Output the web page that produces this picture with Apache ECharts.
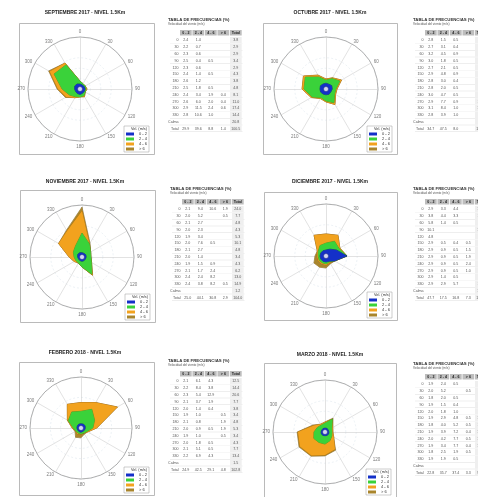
<!DOCTYPE html>
<html>
<head>
<meta charset="utf-8">
<script src="https://cdn.jsdelivr.net/npm/echarts@6/dist/echarts.min.js"></script>
<style>
  html, body { margin: 0; padding: 0; background: #fff; }
  #chart { width: 478px; height: 497px; }
</style>
</head>
<body>
<div id="chart"></div>
<script>
// Wind direction sectors (degrees, clockwise from north)
const DIRS = [0, 30, 60, 90, 120, 150, 180, 210, 240, 270, 300, 330];
// Wind speed classes (m/s)
const SPEED_CLASSES = ['0 - 2', '2 - 4', '4 - 6', '> 6'];
const MONTHS = ['SEPTIEMBRE 2017', 'OCTUBRE 2017', 'NOVIEMBRE 2017', 'DICIEMBRE 2017', 'FEBRERO 2018', 'MARZO 2018'];
const TITLE_SUFFIX = 'NIVEL 1.5Km';

// Frequency (%) per direction sector for each speed class
const sep17_v1 = [2.4, 2.2, 2.3, 2.5, 2.3, 2.4, 2.6, 2.5, 2.4, 2.6, 2.9, 2.8];
const sep17_v2 = [1.4, 0.7, 0.6, 0.4, 0.6, 1.4, 1.2, 1.8, 3.4, 6.0, 11.5, 10.6];
const sep17_v3 = [0, 0, 0, 0.5, 0, 0.5, 0, 0.5, 1.9, 2.0, 2.4, 1.0];
const sep17_v4 = [0, 0, 0, 0, 0, 0, 0, 0, 0.4, 0.4, 0.6, 0];

const oct17_v1 = [2.8, 2.7, 3.2, 3.0, 2.7, 2.9, 2.8, 2.8, 3.0, 2.9, 3.1, 2.8];
const oct17_v2 = [1.5, 3.1, 4.5, 1.8, 2.1, 4.8, 3.0, 2.0, 4.7, 7.7, 8.4, 3.9];
const oct17_v3 = [0.5, 0.4, 0.9, 0.5, 0.5, 0.9, 0.4, 0.5, 0.5, 0.9, 1.0, 1.0];
const oct17_v4 = [0, 0, 0, 0, 0, 0, 0, 0, 0, 0, 0, 0];

const nov17_v1 = [2.1, 2.0, 2.1, 2.0, 1.9, 2.0, 2.1, 2.0, 1.9, 2.1, 2.4, 2.4];
const nov17_v2 = [9.4, 5.2, 2.7, 2.3, 3.4, 7.6, 2.7, 1.4, 1.5, 1.7, 2.4, 3.8];
const nov17_v3 = [10.6, 0, 0, 0, 0, 0.5, 0, 0, 0.9, 2.4, 8.2, 8.2];
const nov17_v4 = [1.9, 0.5, 0, 0, 0, 0, 0, 0, 0, 0, 0, 0.5];

const dic17_v1 = [2.9, 3.8, 5.8, 10.1, 4.8, 2.9, 2.9, 2.9, 2.9, 2.9, 2.9, 2.9];
const dic17_v2 = [3.3, 4.4, 1.4, 0, 0, 0.5, 0.9, 0.9, 0.9, 0.9, 1.4, 2.9];
const dic17_v3 = [4.4, 3.3, 0.5, 0, 0, 0.4, 0.5, 0.5, 0.5, 0.5, 0.5, 5.7];
const dic17_v4 = [0, 0, 0, 0, 0, 0.5, 1.5, 1.9, 2.4, 1.0, 0, 0];

const feb18_v1 = [2.1, 2.2, 2.3, 2.1, 2.0, 1.9, 2.1, 2.0, 1.9, 2.0, 2.1, 2.2];
const feb18_v2 = [6.1, 8.4, 5.4, 3.7, 1.4, 1.0, 0.8, 0.9, 1.0, 1.8, 5.1, 6.9];
const feb18_v3 = [4.3, 3.8, 12.9, 1.9, 0.4, 0, 0, 0.5, 0, 0.5, 0.5, 4.3];
const feb18_v4 = [0, 0, 0, 0, 0, 0.5, 1.9, 1.9, 0.5, 0, 0, 0];

const mar18_v1 = [1.9, 2.0, 1.8, 1.9, 2.0, 1.9, 1.8, 1.9, 2.0, 1.9, 1.8, 1.9];
const mar18_v2 = [2.4, 5.2, 2.0, 1.5, 1.8, 2.9, 4.0, 3.9, 4.2, 3.4, 2.5, 1.9];
const mar18_v3 = [0.5, 0, 0.5, 0.4, 1.0, 4.8, 5.2, 7.2, 7.7, 7.7, 1.9, 0.5];
const mar18_v4 = [0, 0.5, 0, 0, 0, 0.5, 0.5, 0.4, 0.5, 0.4, 0.5, 0];

// Calms (%) per month
const CALMS = [20.8, 9.8, 1.2, 10.7, 1.5, 0.3];

const MONTH_DATA = [
  [sep17_v1, sep17_v2, sep17_v3, sep17_v4],
  [oct17_v1, oct17_v2, oct17_v3, oct17_v4],
  [nov17_v1, nov17_v2, nov17_v3, nov17_v4],
  [dic17_v1, dic17_v2, dic17_v3, dic17_v4],
  [feb18_v1, feb18_v2, feb18_v3, feb18_v4],
  [mar18_v1, mar18_v2, mar18_v3, mar18_v4]
];

const RADIAL_MAX = 25;
const CLASS_COLORS = ['#1430c8', '#3ad23a', '#f2a21e', '#a9852c'];
const CLASS_EDGES = ['#0a1670', '#1f8a1f', '#b86d00', '#6b5218'];
const FONT = '"Liberation Sans", Arial, sans-serif';

// Page layout for each month panel
const PANELS = [
  { cx: 80,  cy: 89,  r: 52, box: [19, 23, 135, 131],  title: [85, 13],   table: [168, 18] },
  { cx: 326, cy: 89,  r: 52, box: [263, 23, 134, 131], title: [330, 13],  table: [413, 18] },
  { cx: 82,  cy: 257, r: 52, box: [20, 190, 135, 132], title: [85, 182],  table: [170, 187] },
  { cx: 326, cy: 256, r: 52, box: [264, 192, 133, 128], title: [330, 182], table: [413, 187] },
  { cx: 81,  cy: 428, r: 51, box: [19, 362, 135, 133], title: [85, 353],  table: [168, 359] },
  { cx: 325, cy: 432, r: 52, box: [264, 363, 132, 134], title: [330, 355], table: [413, 362] }
];

// Radar indicators run counter-clockwise, so list the sectors in reverse to get a compass rose
const ORDER = DIRS.map((d, k) => (DIRS.length - k) % DIRS.length);

const radar = [], polar = [], angleAxis = [], radiusAxis = [], series = [], legend = [], graphic = [];

function fmt(v) { return v ? v.toFixed(1) : ''; }

PANELS.forEach((p, pi) => {
  const classes = MONTH_DATA[pi];

  radar.push({
    center: [p.cx, p.cy], radius: p.r, startAngle: 90, shape: 'circle', splitNumber: 5,
    indicator: ORDER.map(i => ({ name: String(DIRS[i]), max: RADIAL_MAX })),
    nameGap: 3,
    axisName: { color: '#7a7a7a', fontSize: 4.5, fontFamily: FONT },
    splitLine: { lineStyle: { color: ['#dfe7ee', '#dfe7ee', '#dfe7ee', '#dfe7ee', 'rgba(0,0,0,0)'], width: 0.6, type: [2, 2] } },
    splitArea: { show: false },
    axisLine: { lineStyle: { color: '#cfcfcf', width: 0.6 } }
  });

  polar.push({ center: [p.cx, p.cy], radius: p.r });
  angleAxis.push({
    polarIndex: pi, type: 'value', min: 0, max: 360, startAngle: 90, clockwise: true,
    axisLine: { show: true, lineStyle: { color: '#9a9a9a', width: 0.8 } },
    axisTick: { show: false }, axisLabel: { show: false }, splitLine: { show: false }
  });
  radiusAxis.push({ polarIndex: pi, type: 'value', min: 0, max: RADIAL_MAX, show: false });

  // Cumulative petals, drawn from the fastest class outward-in
  for (let k = 3; k >= 0; k--) {
    const cum = DIRS.map((d, i) => {
      let s = 0;
      for (let c = 0; c <= k; c++) s += classes[c][i];
      return +s.toFixed(2);
    });
    series.push({
      type: 'radar', radarIndex: pi, name: SPEED_CLASSES[k], symbol: 'none', silent: true,
      lineStyle: { width: 0.6, color: CLASS_EDGES[k] },
      itemStyle: { color: CLASS_COLORS[k] },
      areaStyle: { color: CLASS_COLORS[k], opacity: 1 },
      data: [{ value: ORDER.map(i => cum[i]), name: SPEED_CLASSES[k] }]
    });
  }
  // Calm centre
  series.push({
    type: 'scatter', coordinateSystem: 'polar', polarIndex: pi, silent: true, z: 10,
    symbolSize: 5, itemStyle: { color: '#ffffff', borderColor: '#0a1670', borderWidth: 0.6 },
    data: [[0, 0]]
  });

  // Frame and title
  const [bx, by, bw, bh] = p.box;
  graphic.push({ type: 'rect', z: -10, shape: { x: bx + 0.5, y: by + 0.5, width: bw, height: bh },
    style: { fill: '#fff', stroke: '#a8a8a8', lineWidth: 0.8 } });
  graphic.push({ type: 'text', z: 100, x: p.title[0], y: p.title[1],
    style: { text: MONTHS[pi] + ' - ' + TITLE_SUFFIX, fontSize: 5, fontWeight: 'bold', fontFamily: FONT,
      fill: '#222', align: 'center', verticalAlign: 'middle' } });

  // Legend box
  const lx = bx + bw - 30, ly = by + bh - 28;
  legend.push({
    left: lx, top: ly, orient: 'vertical', selectedMode: false,
    itemWidth: 8, itemHeight: 3, itemGap: 1, padding: [6, 2, 1, 2],
    borderColor: '#9a9a9a', borderWidth: 0.5, backgroundColor: '#fff',
    textStyle: { fontSize: 4, color: '#333', fontFamily: FONT },
    data: SPEED_CLASSES.map(n => ({ name: n, icon: 'rect' }))
  });
  graphic.push({ type: 'text', z: 100, x: lx + 15, y: ly + 3,
    style: { text: 'Vel. (m/s)', fontSize: 3.8, fontFamily: FONT, fill: '#333', align: 'center', verticalAlign: 'middle' } });

  // Frequency table
  const [tx, ty] = p.table;
  const labelW = 12, colW = 12.5, rowH = 6.8, headTop = ty + 12, rowTop = ty + 19;
  const kids = [];
  kids.push({ type: 'text', x: tx, y: ty, style: { text: 'TABLA DE FRECUENCIAS (%)', fontSize: 4.3, fontWeight: 'bold', fontFamily: FONT, fill: '#333', verticalAlign: 'top' } });
  kids.push({ type: 'text', x: tx, y: ty + 5, style: { text: 'Velocidad del viento (m/s)', fontSize: 3.2, fontFamily: FONT, fill: '#555', verticalAlign: 'top' } });
  const heads = SPEED_CLASSES.concat(['Total']);
  heads.forEach((h, j) => {
    const x = tx + labelW + j * colW;
    kids.push({ type: 'rect', shape: { x: x, y: headTop, width: colW - 0.8, height: 5.5 }, style: { fill: '#bdbdbd' } });
    kids.push({ type: 'text', x: x + (colW - 0.8) / 2, y: headTop + 2.8, style: { text: h, fontSize: 3.6, fontWeight: 'bold', fontFamily: FONT, fill: '#222', align: 'center', verticalAlign: 'middle' } });
  });
  const rows = DIRS.map((d, i) => {
    const vals = classes.map(c => c[i]);
    const tot = vals.reduce((a, b) => a + b, 0);
    return [String(d)].concat(vals.map(fmt), [fmt(tot)]);
  });
  rows.push(['Calma', '', '', '', '', fmt(CALMS[pi])]);
  const colTotals = classes.map(c => c.reduce((a, b) => a + b, 0));
  const grand = colTotals.reduce((a, b) => a + b, 0) + CALMS[pi];
  rows.push(['Total'].concat(colTotals.map(fmt), [fmt(grand)]));
  rows.forEach((row, i) => {
    const y = rowTop + i * rowH;
    kids.push({ type: 'rect', shape: { x: tx + 2, y: y + rowH - 0.6, width: labelW - 2 + 5 * colW, height: 0.4 }, style: { fill: '#dddddd' } });
    kids.push({ type: 'text', x: tx + labelW - 1.5, y: y + rowH / 2, style: { text: row[0], fontSize: 3.6, fontFamily: FONT, fill: '#555', align: 'right', verticalAlign: 'middle' } });
    for (let j = 1; j < row.length; j++) {
      const x = tx + labelW + (j - 1) * colW;
      if (j === row.length - 1) {
        kids.push({ type: 'rect', shape: { x: x, y: y, width: colW - 0.8, height: rowH - 0.6 }, style: { fill: '#efefef' } });
      }
      kids.push({ type: 'text', x: x + (colW - 0.8) / 2, y: y + rowH / 2, style: { text: row[j], fontSize: 3.6, fontFamily: FONT, fill: '#555', align: 'center', verticalAlign: 'middle' } });
    }
  });
  graphic.push({ type: 'group', z: 100, children: kids });
});

const chart = echarts.init(document.getElementById('chart'), null, { renderer: 'canvas' });
chart.setOption({
  backgroundColor: '#ffffff',
  animation: false,
  textStyle: { fontFamily: FONT },
  radar: radar,
  polar: polar,
  angleAxis: angleAxis,
  radiusAxis: radiusAxis,
  legend: legend,
  graphic: { elements: graphic },
  series: series
});
</script>
</body>
</html>
